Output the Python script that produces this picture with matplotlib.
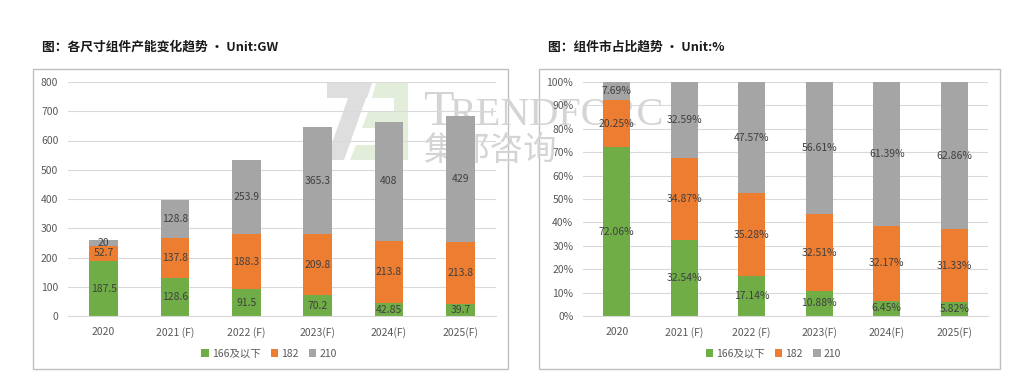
import matplotlib
matplotlib.use("Agg")
import matplotlib.pyplot as plt
from matplotlib.patches import Rectangle, Polygon
from matplotlib.ticker import FuncFormatter

plt.rcParams['font.family'] = ['Noto Sans CJK SC', 'DejaVu Sans']

years = ['2020', '2021 (F)', '2022 (F)', '2023(F)', '2024(F)', '2025(F)']
series = ['166及以下', '182', '210']

cap_166 = [187.5, 128.6, 91.5, 70.2, 42.85, 39.7]
cap_182 = [52.7, 137.8, 188.3, 209.8, 213.8, 213.8]
cap_210 = [20, 128.8, 253.9, 365.3, 408, 429]

share_166 = [72.06, 32.54, 17.14, 10.88, 6.45, 5.82]
share_182 = [20.25, 34.87, 35.28, 32.51, 32.17, 31.33]
share_210 = [7.69, 32.59, 47.57, 56.61, 61.39, 62.86]

colours = ['#70AD47', '#ED7D31', '#A5A5A5']
W, H = 1016, 377


def px_axes(fig, x0, y0, x1, y1):
    # pixel box (top-left origin) -> figure axes
    return fig.add_axes([x0 / W, 1 - y1 / H, (x1 - x0) / W, (y1 - y0) / H])


def fig_poly(fig, pts, colour):
    fig.patches.append(Polygon([(x / W, 1 - y / H) for x, y in pts], closed=True,
                               transform=fig.transFigure, facecolor=colour,
                               edgecolor='none', zorder=-2))


def stacked(ax, data, fmt):
    x = list(range(len(years)))
    bottom = [0] * len(years)
    for vals, c, name in zip(data, colours, series):
        ax.bar(x, vals, 0.4, bottom=bottom, color=c, label=name, zorder=2)
        for i, v in enumerate(vals):
            ax.text(i, bottom[i] + v / 2, fmt(v), ha='center', va='center',
                    fontsize=7.5, color='#404040', zorder=3)
        bottom = [b + v for b, v in zip(bottom, vals)]
    ax.set_xlim(-0.5, len(years) - 0.5)
    ax.set_xticks(x)
    ax.set_xticklabels(years)
    ax.set_facecolor('none')
    for s in ['top', 'right', 'left']:
        ax.spines[s].set_visible(False)
    ax.spines['bottom'].set_color('#D9D9D9')
    ax.tick_params(length=0, labelsize=7.5, labelcolor='#595959', pad=7)
    ax.tick_params(axis='x', pad=8)
    ax.grid(axis='y', color='#D9D9D9', linewidth=0.8, zorder=0)
    ax.set_axisbelow(True)
    leg = ax.legend(loc='upper center', bbox_to_anchor=(0.47, -0.1), ncol=3,
                    frameon=False, fontsize=7.5, handlelength=0.7, handleheight=0.7,
                    handletextpad=0.3, columnspacing=1.0)
    for t in leg.get_texts():
        t.set_color('#595959')


fig = plt.figure(figsize=(W / 100, H / 100), dpi=100)

# TrendForce watermark, behind the charts
fig_poly(fig, [(327, 83), (372, 83), (367, 98), (327, 98)], '#DEDEDE')
fig_poly(fig, [(348, 98), (366, 98), (344, 160), (326, 160)], '#DEDEDE')
fig_poly(fig, [(376, 83), (408, 83), (408, 160), (350, 160), (356, 145), (392, 145),
               (394, 128), (362, 128), (368, 112), (394, 112), (394, 98), (372, 98)],
         '#E2EEDA')
fig.text(423 / W, 1 - 125 / H, 'T', family='Liberation Serif', fontsize=36,
         color='#D4D4D4', zorder=-1)
fig.text(450 / W, 1 - 125 / H, 'RENDFORC', family='Liberation Serif', fontsize=29,
         color='#D4D4D4', zorder=-1)
fig.text(423 / W, 1 - 160 / H, '集邦咨询', fontsize=24, color='#D4D4D4', zorder=-1)

# panel frames
for x0, x1 in [(33, 508), (539, 1000)]:
    fig.patches.append(Rectangle((x0 / W, 1 - 369 / H), (x1 - x0) / W, 300 / H,
                                 transform=fig.transFigure, fill=False,
                                 edgecolor='#BFBFBF', linewidth=1.0, zorder=-3))

fig.text(42 / W, 1 - 47 / H, '图：各尺寸组件产能变化趋势 · Unit:GW', fontsize=9.2,
         fontweight='bold', color='#1A1A1A', va='center')
fig.text(548 / W, 1 - 47 / H, '图：组件市占比趋势 · Unit:%', fontsize=9.2,
         fontweight='bold', color='#1A1A1A', va='center')

ax1 = px_axes(fig, 68, 82, 496, 316)
stacked(ax1, [cap_166, cap_182, cap_210], lambda v: f'{v:g}')
ax1.set_ylim(0, 800)
ax1.set_yticks(range(0, 801, 100))

ax2 = px_axes(fig, 583, 82, 988, 316)
stacked(ax2, [share_166, share_182, share_210], lambda v: f'{v:.2f}%')
ax2.set_ylim(0, 100)
ax2.set_yticks(range(0, 101, 10))
ax2.yaxis.set_major_formatter(FuncFormatter(lambda v, p: f'{v:.0f}%'))

fig.savefig('out.png', dpi=100)
